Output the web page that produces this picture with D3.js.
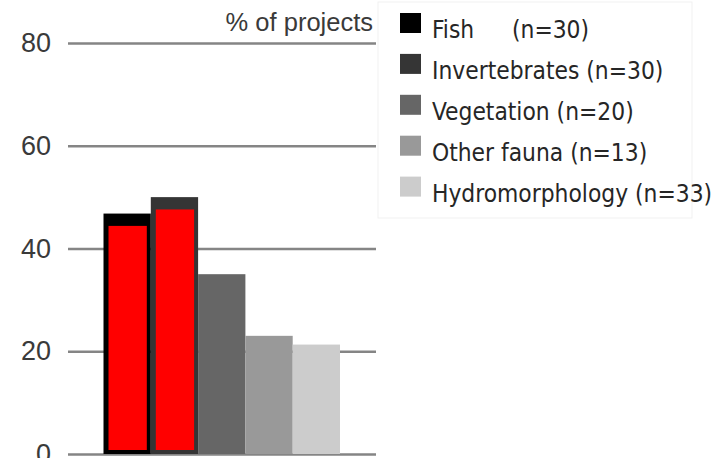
<!DOCTYPE html>
<html>
<head>
<meta charset="utf-8">
<script src="https://cdn.jsdelivr.net/npm/d3@7"></script>
<style>
  html, body { margin: 0; padding: 0; background: #fff; }
  svg { display: block; }
</style>
</head>
<body>
<svg id="chart" width="728" height="458"></svg>
<script>
// ---- data ----
const categories = ["Fish", "Invertebrates", "Vegetation", "Other fauna", "Hydromorphology"];
const counts = [30, 30, 20, 13, 33];
const values = [46.8, 50, 35, 23, 21.3];
const highlight = [44.4, 47.6, null, null, null];
const colors = ["#000000", "#353535", "#666666", "#999999", "#cccccc"];
const yTicks = [0, 20, 40, 60, 80];
const yTitle = "% of projects";

// ---- layout ----
const svg = d3.select("#chart");
const plotLeft = 68, plotRight = 376;
const y = d3.scaleLinear().domain([0, 80]).range([454, 43]);
const x = d3.scaleBand().domain(categories).range([103.5, 340]).padding(0);

// gridlines + tick labels
const axis = d3.axisLeft(y)
  .tickValues(yTicks)
  .tickSize(-(plotRight - plotLeft))
  .tickPadding(17)
  .tickFormat(d3.format("d"));
const gAxis = svg.append("g")
  .attr("transform", `translate(${plotLeft},0)`)
  .call(axis);
gAxis.select(".domain").remove();
gAxis.selectAll(".tick line")
  .attr("stroke", "#858585")
  .attr("stroke-width", 2.6);
gAxis.selectAll(".tick text")
  .attr("fill", "#3a3a3a")
  .style("font-family", "'Liberation Sans', Arial, sans-serif")
  .style("font-size", "27px");

// title
svg.append("text")
  .attr("x", 373).attr("y", 31)
  .attr("text-anchor", "end")
  .attr("fill", "#3a3a3a")
  .style("font-family", "'Liberation Sans', Arial, sans-serif")
  .style("font-size", "25.5px")
  .text(yTitle);

// bars
svg.append("g").selectAll("rect")
  .data(categories)
  .join("rect")
  .attr("x", d => x(d))
  .attr("width", x.bandwidth())
  .attr("y", (d, i) => y(values[i]))
  .attr("height", (d, i) => y(0) - y(values[i]))
  .attr("fill", (d, i) => colors[i]);

// red highlight overlays
const hl = categories.map((c, i) => ({ c, v: highlight[i] })).filter(d => d.v != null);
svg.append("g").selectAll("rect")
  .data(hl)
  .join("rect")
  .attr("x", d => x(d.c) + 5)
  .attr("width", x.bandwidth() - 9)
  .attr("y", d => y(d.v))
  .attr("height", d => (y(0) - 4) - y(d.v))
  .attr("fill", "#ff0000");

// legend
const legend = svg.append("g");
legend.append("rect")
  .attr("x", 378).attr("y", 2)
  .attr("width", 314).attr("height", 216)
  .attr("fill", "#ffffff")
  .attr("stroke", "#f1f1f1")
  .attr("stroke-width", 1);

const items = legend.selectAll("g.item")
  .data(categories)
  .join("g")
  .attr("class", "item")
  .attr("transform", (d, i) => `translate(0,${38 + i * 40.9})`);
items.append("rect")
  .attr("x", 400).attr("y", -25)
  .attr("width", 21).attr("height", 20)
  .attr("fill", (d, i) => colors[i]);
const txt = items.append("text")
  .attr("x", 432).attr("y", 0)
  .attr("fill", "#262626")
  .style("font-family", "'DejaVu Sans Condensed', 'DejaVu Sans', sans-serif")
  .style("font-stretch", "condensed")
  .style("font-size", "24.3px");
txt.each(function(d, i) {
  const t = d3.select(this);
  if (i === 0) {
    t.append("tspan").text(d);
    t.append("tspan").attr("x", 512).text(`(n=${counts[i]})`);
  } else {
    t.text(`${d} (n=${counts[i]})`);
  }
});
</script>
</body>
</html>
